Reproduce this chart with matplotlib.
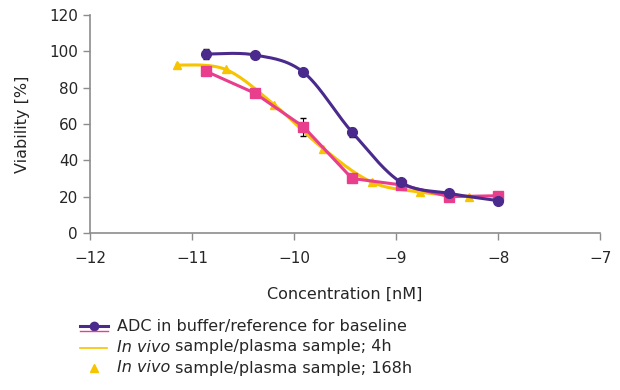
import numpy as np
import matplotlib
matplotlib.use("Agg")
import matplotlib.pyplot as plt
from matplotlib.lines import Line2D

# log10 concentration (3-fold dilutions)
x_ref = [-10.862, -10.385, -9.908, -9.431, -8.954, -8.477, -8.0]
y_ref = [98.5, 98.0, 88.5, 55.5, 28.0, 21.8, 17.8]
err_ref = [3.0, 0.5, 0.8, 2.5, 1.0, 0.5, 0.5]

x_4h = [-10.862, -10.385, -9.908, -9.431, -8.954, -8.477, -8.0]
y_4h = [89.0, 77.0, 58.5, 30.0, 26.5, 20.0, 20.5]
err_4h = [0.5, 0.5, 5.0, 0.5, 0.5, 0.5, 0.5]

x_168h = [-11.146, -10.669, -10.192, -9.715, -9.238, -8.761, -8.284]
y_168h = [92.5, 90.0, 70.5, 46.5, 28.0, 22.5, 20.0]

# (italic part, plain part)
legend_labels = [
    ("", "ADC in buffer/reference for baseline"),
    ("In vivo", " sample/plasma sample; 4h"),
    ("In vivo", " sample/plasma sample; 168h"),
]

PURPLE = "#4a2a8c"
PINK = "#e83e8c"
YELLOW = "#f6c400"
GREY = "#8c8c8c"
TXT = "#262626"


def smooth(xs, ys, n=30, t=0.5):
    # Catmull-Rom style smoothing like spreadsheet "smoothed line"
    xs = np.asarray(xs, float)
    ys = np.asarray(ys, float)
    P = np.column_stack([xs, ys])
    P = np.vstack([P[0], P, P[-1]])
    out = []
    for i in range(1, len(P) - 2):
        p0, p1, p2, p3 = P[i - 1], P[i], P[i + 1], P[i + 2]
        m1 = t * (p2 - p0)
        m2 = t * (p3 - p1)
        s = np.linspace(0, 1, n)[:, None]
        h00 = 2 * s**3 - 3 * s**2 + 1
        h10 = s**3 - 2 * s**2 + s
        h01 = -2 * s**3 + 3 * s**2
        h11 = s**3 - s**2
        out.append(h00 * p1 + h10 * m1 + h01 * p2 + h11 * m2)
    c = np.vstack(out)
    return c[:, 0], c[:, 1]


plt.rcParams['font.family'] = ['DejaVu Sans']
fig = plt.figure(figsize=(6.2, 3.9), dpi=100)
ax = fig.add_axes([0.145, 0.4026, 0.823, 0.559])

sx, sy = smooth(x_168h, y_168h)
ax.plot(sx, sy, color=YELLOW, lw=2.2, zorder=2)
ax.plot(x_168h, y_168h, ls="none", marker="^", ms=6, color=YELLOW, zorder=3)

ax.errorbar(x_4h, y_4h, yerr=err_4h, color=PINK, lw=2.2, marker="s", ms=7,
            ecolor="black", elinewidth=0.8, capsize=2, zorder=4)

sx, sy = smooth(x_ref, y_ref)
ax.plot(sx, sy, color=PURPLE, lw=2.2, zorder=5)
ax.errorbar(x_ref, y_ref, yerr=err_ref, ls="none", color=PURPLE, marker="o",
            ms=7, ecolor="black", elinewidth=0.8, capsize=2, zorder=6)

ax.set_xlim(-12, -7)
ax.set_ylim(0, 120)
ax.set_xticks(np.arange(-12, -6, 1))
ax.set_yticks(np.arange(0, 121, 20))
ax.set_xticklabels(["\u2212%d" % abs(v) for v in range(-12, -6)])
for s in ["top", "right"]:
    ax.spines[s].set_visible(False)
for s in ["left", "bottom"]:
    ax.spines[s].set_color(GREY)
    ax.spines[s].set_linewidth(1.2)
ax.tick_params(colors=GREY, labelcolor=TXT, labelsize=11, length=5, width=1)
ax.tick_params(axis="x", pad=8)
ax.set_xlabel("Concentration [nM]", fontsize=11.5, color=TXT, labelpad=15)
ax.set_ylabel("Viability [%]", fontsize=11.5, color=TXT, labelpad=14)

# legend drawn by hand to keep the original's odd handles
W, H = 620.0, 390.0


def fx(px):
    return px / W


def fy(py):
    return 1 - py / H


fig.add_artist(Line2D([fx(80), fx(94), fx(108)], [fy(326)] * 3, color=PURPLE, lw=2.2,
                      marker="o", ms=6, markevery=[1], transform=fig.transFigure))
fig.add_artist(Line2D([fx(80), fx(108)], [fy(330.5), fy(330.5)], color=PINK, lw=1,
                      transform=fig.transFigure))
fig.add_artist(Line2D([fx(80), fx(107)], [fy(348), fy(348)], color=YELLOW, lw=1.2,
                      transform=fig.transFigure))
fig.add_artist(Line2D([fx(94)], [fy(368)], color=YELLOW, lw=0, marker="^", ms=6,
                      transform=fig.transFigure))

renderer = fig.canvas.get_renderer()
for i, (ital, plain) in enumerate(legend_labels):
    ypos = fy(326 + 21 * i)
    xpos = fx(117)
    if ital:
        t = fig.text(xpos, ypos, ital, fontsize=11.5, color=TXT, va="center", style="italic")
        bb = t.get_window_extent(renderer)
        xpos = bb.x1 / fig.bbox.width
    fig.text(xpos, ypos, plain, fontsize=11.5, color=TXT, va="center")

fig.savefig("out.png", dpi=100)
